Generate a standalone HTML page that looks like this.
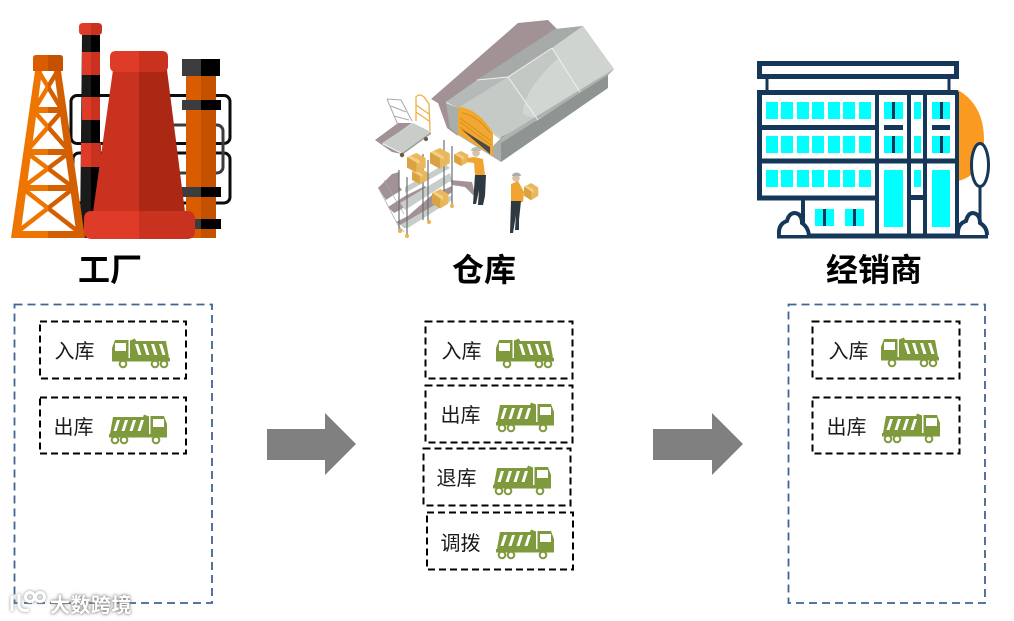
<!DOCTYPE html>
<html lang="zh">
<head>
<meta charset="utf-8">
<title>工厂 仓库 经销商</title>
<style>
html,body{margin:0;padding:0;background:#fff;width:1014px;height:621px;overflow:hidden}
svg{position:absolute;left:0;top:0;display:block}
text{font-family:"Liberation Sans","Noto Sans CJK SC",sans-serif}
.t{font-size:32px;font-weight:700;fill:#000;text-anchor:middle}
.l{font-size:20px;font-weight:400;fill:#1a1a1a;text-anchor:middle}
.d{fill:none;stroke:#000;stroke-width:2;stroke-dasharray:7 4}
.o{fill:none;stroke:#3f6592;stroke-width:1.800;stroke-dasharray:8 5}
.wm{position:absolute;left:50px;top:589px;font:700 20px "Liberation Sans","Noto Sans CJK SC",sans-serif;color:#fff;text-shadow:0 0 2px #777,0 0 4px #999;letter-spacing:.5px;white-space:nowrap}
</style>
</head>
<body>
<svg width="1014" height="621" viewBox="0 0 1014 621" xmlns="http://www.w3.org/2000/svg">
<defs>
<linearGradient id="tw" gradientUnits="userSpaceOnUse" x1="11" y1="0" x2="85" y2="0">
<stop offset="0" stop-color="#ee7500"/><stop offset=".5" stop-color="#ee7500"/><stop offset=".5" stop-color="#d45f00"/><stop offset="1" stop-color="#d45f00"/>
</linearGradient>
<g id="truckR">
<path d="M1 20L4 3H34L35 0.500L40 2.500V20Z" fill="#7f9a3c"/>
<path d="M8 6H11L7.500 17H4.500ZM16 6H19L15.500 17H12.500ZM24 6H27L23.500 17H20.500ZM32 6H35L31.500 17H28.500Z" fill="#fff"/>
<path d="M41.500 2H55L58 10V23H41.500Z" fill="#7f9a3c"/>
<rect x="44" y="5" width="11" height="8" fill="#fff"/>
<rect x="0" y="20" width="58" height="3.500" fill="#7f9a3c"/>
<g fill="#fff" stroke="#7f9a3c" stroke-width="2">
<circle cx="6" cy="26" r="3.300"/><circle cx="15" cy="26" r="3.300"/><circle cx="47" cy="26" r="3.300"/>
</g>
</g>
<g id="truckL"><use href="#truckR" transform="translate(58 0) scale(-1 1)"/></g>
<g id="box">
<path d="M0 5L11 0L22 6V17L11 23L0 17Z" fill="#e9b85c"/>
<path d="M0 5L11 11V23L0 17Z" fill="#d9a243"/>
<path d="M4 3L15 9V13L11 11L1 5Z" fill="#f3cf86"/>
</g>
</defs>

<rect width="1014" height="621" fill="#fff"/>

<!-- factory -->
<g fill="none" stroke-width="3">
<rect x="71" y="95.500" width="159" height="48" rx="6" stroke="#0c0c0c"/>
<rect x="73" y="153" width="157" height="50" rx="6" stroke="#0c0c0c"/>
<rect x="150" y="125" width="73" height="48" rx="6" stroke="#3c3c3c"/>
</g>
<path d="M186 76H201V238H186Z" fill="#d95c00"/>
<path d="M201 76H216V238H201Z" fill="#c35100"/>
<rect x="182" y="59" width="19" height="17" fill="#3c3b3d"/><rect x="201" y="59" width="19" height="17" fill="#000"/>
<rect x="182" y="100" width="19" height="10" fill="#3c3b3d"/><rect x="201" y="100" width="20" height="10" fill="#000"/>
<rect x="182" y="187" width="19" height="10" fill="#3c3b3d"/><rect x="201" y="187" width="20" height="10" fill="#000"/>
<rect x="190" y="219" width="11" height="10" fill="#3c3b3d"/><rect x="201" y="219" width="20" height="10" fill="#000"/>

<path d="M82 35H100V238H80Z" fill="#1a1a1a"/>
<path d="M91 35H100V238H91Z" fill="#000"/>
<rect x="82" y="52" width="9" height="23" fill="#de3c28"/><rect x="91" y="52" width="9" height="23" fill="#c8321e"/>
<rect x="82" y="97" width="9" height="23" fill="#de3c28"/><rect x="91" y="97" width="9" height="23" fill="#c8321e"/>
<rect x="81" y="143" width="10" height="24" fill="#de3c28"/><rect x="91" y="143" width="10" height="24" fill="#c8321e"/>
<path d="M83 23H91V35H83Q79 35 79 31V27Q79 23 83 23Z" fill="#de3c28"/>
<path d="M91 23H98Q102 23 102 27V31Q102 35 98 35H91Z" fill="#c8321e"/>

<path d="M113 70H139V212H93Z" fill="#c8321e"/>
<path d="M139 70H167L185 212H139Z" fill="#aa2814"/>
<path d="M116 51H139V72H116Q110 72 110 66V57Q110 51 116 51Z" fill="#de3c28"/>
<path d="M139 51H162Q168 51 168 57V66Q168 72 162 72H139Z" fill="#c8321e"/>
<path d="M92 211H139V239H92Q84 239 84 231V219Q84 211 92 211Z" fill="#de3c28"/>
<path d="M139 211H187Q195 211 195 219V231Q195 239 187 239H139Z" fill="#c8321e"/>

<path d="M35 71H42L20 238H11ZM54 71H61L85 238H77ZM30 107H66V113H30ZM24 149H72V155H24ZM20 185H76V191H20ZM13 231H83V238H13Z" fill="url(#tw)"/>
<g stroke="url(#tw)" stroke-width="4.500" fill="none">
<path d="M39 72L62 110M57 72L34 110M33 110L70 152M63 110L26 152M26 152L74 188M70 152L22 188M22 188L80 233M74 188L16 233"/>
</g>
<path d="M33 58q0-3 3-3H48V71H33Z" fill="#d95c00"/>
<path d="M48 55H60q3 0 3 3V71H48Z" fill="#c35100"/>

<!-- warehouse -->
<path d="M518 23L548 20L557 29L446 102L458 136L447 128L438 103L431 99Z" fill="#a39295"/>
<path d="M446 102L555 29L583 26L614 69L608 75L501 140L458 108Z" fill="#cdd1ce"/>
<path d="M477 80L555 29L583 26L552 48L508 77Z" fill="#a6aaa8"/>
<path d="M446 102L477 80L508 77L458 108Z" fill="#b5b9b7"/>
<path d="M458 108L508 77L538 120L501 137Z" fill="#c6cac7"/>
<path d="M508 77L552 48L580 92L538 120Z" fill="#c4c8c5"/>
<path d="M523 114Q522 85 583 37L595 53L580 92L538 120Z" fill="#d2d6d3"/>
<path d="M552 48L583 26L614 69L580 92Q564 68 552 48Z" fill="#d0d4d1"/>
<path d="M501 137L538 120L580 92L614 69L608 75V88L501 162Z" fill="#8e9491"/>
<path d="M501 138L614 69L608 75L501 143Z" fill="#aeb3b0"/>
<path d="M477 80L508 77L552 48M508 77L538 120M552 48L580 92" stroke="#eef0ee" stroke-width="1" fill="none"/>
<path d="M446 103L458 108V126L493 146L501 138V162L493 157L458 135L450 128Z" fill="#a9aeab"/>
<path d="M458 107Q478 108 493 133V156L458 134Z" fill="#f0a830"/>
<path d="M462 113Q478 116 490 133M460 118L491 141M460 122L491 145M460 127L491 150" stroke="#d98f1f" stroke-width="1" fill="none"/>
<path d="M461 129L490 147V154Z" fill="#4c4a48"/>

<!-- trolley -->
<path d="M375 140L398 123L412 123L382 144L402 154L392 152Z" fill="#a39295"/>
<path d="M382 143L413 123L431 132L402 153Z" fill="#c9cdca"/>
<path d="M402 153L431 132V134L402 155Z" fill="#9ba09d"/>
<circle cx="402" cy="155" r="2.200" fill="#6b5a3a"/><circle cx="426" cy="139" r="2" fill="#6b5a3a"/>
<path d="M387 99L401 100L412 121M387 99L398 125M391 106L406 112M394 116L409 120" fill="none" stroke="#a7abab" stroke-width="1"/>
<path d="M416 121V97Q419 93 424 97L429 104L430 131M416 105L429 114M416 112L429 121" fill="none" stroke="#f0b040" stroke-width="1.300"/>

<!-- shelves -->
<g fill="#a39295">
<path d="M378 188L386 180L392 174L399 172V186L402 190L392 196L386 200Z"/>
<path d="M388 207L405 196L425 186L430 190L400 210L394 213Z"/>
<path d="M396 222L408 216L432 195L452 186V192L405 228Z"/>
<path d="M450 180L472 182L476 198L465 187L452 185Z"/>
</g>
<path d="M378 187L398 225L404 232M384 180L404 214" fill="none" stroke="#a7abab" stroke-width=".7"/>
<path d="M405 187L445 164L450 168L405 193Z" fill="#c9cdca"/>
<path d="M400 203L450 173L452 180L405 210Z" fill="#c9cdca"/>
<path d="M400 225L452 195V200L408 228Z" fill="#c9cdca"/>
<g stroke="#6b7074" stroke-width="1.200">
<line x1="399" y1="170" x2="399" y2="230"/><line x1="407" y1="177" x2="407" y2="236"/>
<line x1="423" y1="154" x2="423" y2="220"/><line x1="428" y1="160" x2="428" y2="222"/>
<line x1="444" y1="140" x2="444" y2="205"/><line x1="452" y1="146" x2="452" y2="205"/>
</g>
<g fill="#eeb245"><circle cx="400" cy="231" r="2"/><circle cx="407" cy="236" r="2"/><circle cx="429" cy="222" r="2"/><circle cx="452" cy="206" r="2"/></g>
<use href="#box" transform="translate(412 168) scale(.7)"/>
<use href="#box" transform="translate(407 153) scale(.85)"/>
<use href="#box" transform="translate(430 148) scale(.9)"/>
<use href="#box" transform="translate(454 151) scale(.65)"/>
<use href="#box" transform="translate(432 189) scale(.75 .85)"/>

<!-- worker 1 -->
<circle cx="476" cy="153" r="3.800" fill="#d9c1a8"/>
<path d="M471 151a5 4 0 0 1 10 0Z" fill="#b9bdba"/>
<path d="M467 158L474 157L483 159L485 175H475L474 163L467 162Z" fill="#f0a530"/>
<path d="M475 175H486L485 196L483 205H478L479 190L476 204H473Z" fill="#2f3942"/>
<!-- worker 2 -->
<circle cx="516" cy="178" r="3.800" fill="#d9c1a8"/>
<path d="M512 176a4.500 3.500 0 0 1 9 0Z" fill="#a9aeab"/>
<path d="M511 184L518 181L524 192L523 202H511Z" fill="#f0a530"/>
<path d="M511 201H521L519 220L519 230H515L516 215L513 233H510Z" fill="#2f3942"/>
<use href="#box" transform="translate(524 183) scale(.65 .75)"/>

<!-- building -->
<path d="M958 90Q984 105 984 140Q984 175 958 181Z" fill="#fb9a21"/>
<g fill="none" stroke="#14375a">
<rect x="759.500" y="63.500" width="197" height="13" stroke-width="5"/>
<path d="M767 78V91M949 78V91" stroke-width="3"/>
<path d="M757 92.500H958M759.500 92V200M757 127.500H877M757 161H958M757 198H877" stroke-width="5"/>
<path d="M877 92V237M909 92V199M925 92V237M957 92V237M803 199V237M909 199V237" stroke-width="4"/>
<path d="M909 197.500H925" stroke-width="5"/>
<path d="M777 236H988" stroke-width="5"/>
</g>
<g fill="#0ff">
<rect x="766" y="102" width="12" height="17"/><rect x="781" y="102" width="12" height="17"/><rect x="797" y="102" width="12" height="17"/><rect x="812" y="102" width="12" height="17"/><rect x="828" y="102" width="12" height="17"/><rect x="843" y="102" width="12" height="17"/><rect x="859" y="102" width="12" height="17"/>
<rect x="766" y="136" width="12" height="17"/><rect x="781" y="136" width="12" height="17"/><rect x="797" y="136" width="12" height="17"/><rect x="812" y="136" width="12" height="17"/><rect x="828" y="136" width="12" height="17"/><rect x="843" y="136" width="12" height="17"/><rect x="859" y="136" width="12" height="17"/>
<rect x="766" y="170" width="12" height="17"/><rect x="781" y="170" width="12" height="17"/><rect x="797" y="170" width="12" height="17"/><rect x="812" y="170" width="12" height="17"/><rect x="828" y="170" width="12" height="17"/><rect x="843" y="170" width="12" height="17"/><rect x="859" y="170" width="12" height="17"/>
<rect x="884" y="102" width="19" height="17"/><rect x="884" y="136" width="19" height="17"/><rect x="884" y="170" width="19" height="57"/>
<rect x="932" y="102" width="18" height="17"/><rect x="932" y="136" width="18" height="17"/><rect x="932" y="170" width="18" height="57"/>
<rect x="914" y="102" width="7" height="17"/><rect x="914" y="136" width="7" height="17"/><rect x="914" y="170" width="7" height="17"/>
<rect x="815" y="209" width="19" height="17"/><rect x="845" y="209" width="19" height="17"/>
</g>
<g fill="#14375a">
<rect x="892" y="102" width="3" height="17"/><rect x="892" y="136" width="3" height="17"/>
<rect x="940" y="102" width="3" height="17"/><rect x="940" y="136" width="3" height="17"/>
<rect x="823" y="209" width="3" height="17"/><rect x="853" y="209" width="3" height="17"/>
<rect x="884" y="125" width="19" height="5"/><rect x="932" y="125" width="18" height="5"/>
</g>
<ellipse cx="980" cy="165" rx="8.500" ry="21.500" fill="#fff" stroke="#14375a" stroke-width="3"/>
<path d="M980 187V226" stroke="#14375a" stroke-width="3"/>
<path d="M779 235Q778 224 787 221Q789 213 795 213Q802 214 802 223Q808 227 809 235" fill="#fff" stroke="#14375a" stroke-width="4"/>
<path d="M958 235Q957 224 966 221Q968 213 973 213Q980 214 980 223Q987 227 987 235" fill="#fff" stroke="#14375a" stroke-width="4"/>

<!-- titles -->
<text class="t" x="110" y="281" textLength="64" lengthAdjust="spacingAndGlyphs">工厂</text>
<text class="t" x="484" y="281" textLength="64" lengthAdjust="spacingAndGlyphs">仓库</text>
<text class="t" x="874" y="281" textLength="96" lengthAdjust="spacingAndGlyphs">经销商</text>

<!-- outer boxes -->
<rect class="o" x="14.500" y="304.500" width="197.500" height="298.500"/>
<rect class="o" x="788.500" y="304.500" width="196.500" height="298.500"/>

<!-- inner boxes -->
<rect class="d" x="40" y="321.500" width="146" height="57"/>
<rect class="d" x="40" y="397.500" width="146" height="56"/>
<rect class="d" x="425.500" y="321.500" width="147" height="57"/>
<rect class="d" x="425.500" y="385.500" width="147" height="57"/>
<rect class="d" x="423.500" y="448.500" width="147" height="57"/>
<rect class="d" x="427" y="512.500" width="146" height="57"/>
<rect class="d" x="812.500" y="321.500" width="147" height="57"/>
<rect class="d" x="812.500" y="397.500" width="147" height="56"/>

<!-- labels -->
<text class="l" x="74.500" y="358">入库</text>
<text class="l" x="73.500" y="434">出库</text>
<text class="l" x="461.500" y="358">入库</text>
<text class="l" x="460.500" y="422">出库</text>
<text class="l" x="456.500" y="485">退库</text>
<text class="l" x="460.500" y="550">调拨</text>
<text class="l" x="848.500" y="358">入库</text>
<text class="l" x="846.500" y="434">出库</text>

<!-- trucks -->
<use href="#truckL" transform="translate(112 338)"/>
<use href="#truckR" transform="translate(109 414)"/>
<use href="#truckL" transform="translate(496 338)"/>
<use href="#truckR" transform="translate(496 402)"/>
<use href="#truckR" transform="translate(493 465)"/>
<use href="#truckR" transform="translate(496 529)"/>
<use href="#truckL" transform="translate(881 337)"/>
<use href="#truckR" transform="translate(882 413)"/>

<!-- arrows -->
<path d="M267 429H325V413L356 444L325 475V460H267Z" fill="#808080"/>
<path d="M653 429H712V413L743 444L712 475V460H653Z" fill="#808080"/>

<!-- watermark logo -->
<g fill="none" stroke="#fff" stroke-width="3" style="filter:drop-shadow(0 0 1.500px #888)">
<path d="M12 596V611M19 594V606Q21 612 29 610"/>
<circle cx="30" cy="597" r="4.500"/><circle cx="40" cy="597" r="4.500"/>
</g>
</svg>
<div class="wm">大数跨境</div>
</body>
</html>
